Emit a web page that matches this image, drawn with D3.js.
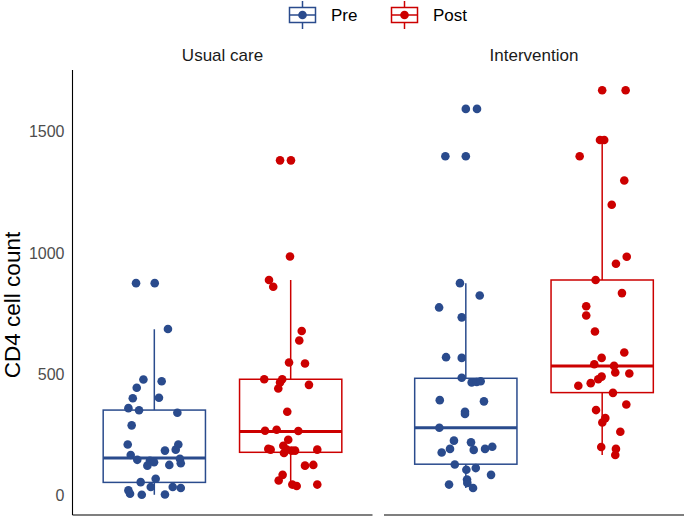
<!DOCTYPE html>
<html>
<head>
<meta charset="utf-8">
<script src="https://cdn.jsdelivr.net/npm/d3@7"></script>
<style>
  body { margin: 0; background: #fff; }
  svg { font-family: "Liberation Sans", Arial, Helvetica, sans-serif; }
</style>
</head>
<body>
<svg id="chart" width="685" height="519"></svg>
<script>
// panels and timepoints
const groups = ['Usual care', 'Intervention'];
const times = ['Pre', 'Post'];
const colors = { Pre: '#2a4b8d', Post: '#cc0000' };
const yTicks = [0, 500, 1000, 1500];

// CD4 counts
const ucPre = [876, 876, 687, 479, 472, 445, 402, 404, 361, 352, 342, 290, 211, 211, 186, 190, 168, 148, 144, 138, 124, 152, 134, 127, 70, 56, 36, 36, 32, 22, 8, 4, 5];
const ucPost = [1382, 1382, 986, 889, 861, 679, 640, 549, 545, 480, 480, 467, 442, 457, 346, 268, 272, 267, 231, 193, 190, 206, 190, 186, 186, 190, 176, 124, 127, 86, 63, 46, 40, 46];
const intPre = [1594, 1594, 1399, 1399, 876, 825, 776, 735, 571, 568, 486, 467, 469, 472, 394, 389, 346, 337, 280, 227, 220, 193, 178, 189, 193, 202, 129, 107, 114, 86, 46, 67, 53, 32];
const intPost = [1671, 1671, 1466, 1466, 1399, 1299, 1199, 985, 956, 889, 835, 781, 743, 677, 590, 568, 542, 535, 508, 504, 491, 480, 464, 453, 424, 376, 353, 320, 302, 264, 201, 193, 168];

// horizontal jitter (in category units) of each point, as seen in the picture
const ucPreJit = [-0.134, 0.003, 0.10, -0.08, 0.054, -0.129, -0.158, 0.034, -0.19, -0.112, 0.169, -0.166, -0.195, 0.176, 0.078, 0.157, -0.173, -0.125, -0.032, -0.002, -0.051, 0.188, 0.194, 0.11, 0.01, -0.1, -0.026, 0.135, 0.194, -0.19, -0.178, -0.092, 0.078];
const ucPostJit = [-0.078, 0.002, -0.005, -0.159, -0.128, 0.081, 0.063, -0.012, 0.105, -0.194, -0.062, -0.078, -0.091, 0.134, -0.025, -0.188, -0.103, 0.056, -0.018, -0.164, -0.147, -0.054, -0.029, 0.007, 0.032, 0.195, -0.049, 0.105, 0.166, -0.059, -0.088, 0.012, 0.044, 0.195];
const intPreJit = [0.0, 0.082, -0.15, 0.0, -0.043, 0.102, -0.196, -0.03, -0.145, -0.03, -0.03, 0.043, 0.08, 0.109, -0.191, 0.133, -0.006, -0.006, -0.194, -0.087, 0.038, -0.116, -0.177, 0.058, 0.141, 0.194, -0.081, 0.004, 0.073, 0.185, -0.123, 0.009, 0.011, 0.053];
const intPostJit = [0.0, 0.172, -0.016, 0.015, -0.165, 0.162, 0.07, 0.18, 0.101, -0.048, 0.145, -0.117, -0.117, -0.053, 0.162, -0.004, -0.058, 0.087, 0.096, 0.199, -0.004, -0.029, -0.084, -0.175, 0.079, 0.177, -0.045, 0.023, 0.001, 0.133, -0.007, 0.101, 0.096];

// box stats: [lower whisker, q1, median, q3, upper whisker]
const ucPreBox = [4, 55, 156, 353, 686];
const ucPostBox = [40, 179, 265, 480, 889];
const intPreBox = [32, 130, 280, 484, 876];
const intPostBox = [168, 425, 535, 889, 1466];

const series = [
  { group: 'Usual care', time: 'Pre', values: ucPre, jit: ucPreJit, box: ucPreBox },
  { group: 'Usual care', time: 'Post', values: ucPost, jit: ucPostJit, box: ucPostBox },
  { group: 'Intervention', time: 'Pre', values: intPre, jit: intPreJit, box: intPreBox },
  { group: 'Intervention', time: 'Post', values: intPost, jit: intPostJit, box: intPostBox }
];

const svg = d3.select('#chart');
const yTop = 70, yBottom = 515;
const panelW = 300;
const panelX = d3.scaleOrdinal().domain(groups).range([72.5, 384]);

// y scale with ggplot-like 5% expansion
const allVals = [].concat(ucPre, ucPost, intPre, intPost);
const [vmin, vmax] = d3.extent(allVals);
const pad = (vmax - vmin) * 0.05;
const y = d3.scaleLinear().domain([vmin - pad, vmax + pad]).range([yBottom, yTop]);

const x = d3.scalePoint().domain(times).range([0, panelW]).padding(0.6);
const step = x.step();
const boxW = step * 0.75;

// y axis (no tick marks)
const yAxis = d3.axisLeft(y).tickValues(yTicks).tickFormat(d3.format('d')).tickSize(0).tickPadding(8);
const gy = svg.append('g').attr('transform', `translate(${panelX('Usual care')},0)`).call(yAxis);
gy.select('.domain').remove();
gy.selectAll('text').attr('fill', '#4d4d4d').style('font-size', '16px')
  .style('font-family', '"Liberation Sans", Arial, sans-serif');
svg.append('line')
  .attr('x1', panelX('Usual care')).attr('x2', panelX('Usual care'))
  .attr('y1', yTop).attr('y2', yBottom)
  .attr('stroke', '#000').attr('stroke-width', 1.1);

svg.append('text')
  .attr('transform', `translate(20,305) rotate(-90)`)
  .attr('text-anchor', 'middle')
  .style('font-size', '22.5px')
  .attr('fill', '#000')
  .text('CD4 cell count');

groups.forEach(g => {
  const px = panelX(g);
  // bottom axis line per panel
  svg.append('line')
    .attr('x1', px).attr('x2', px + panelW)
    .attr('y1', yBottom).attr('y2', yBottom)
    .attr('stroke', '#000').attr('stroke-width', 1.1);
  // strip title
  svg.append('text')
    .attr('x', px + panelW / 2).attr('y', 61)
    .attr('text-anchor', 'middle')
    .style('font-size', '17px')
    .attr('fill', '#1a1a1a')
    .text(g);
});

series.forEach(s => {
  const cx = panelX(s.group) + x(s.time);
  const col = colors[s.time];
  const [lo, q1, med, q3, hi] = s.box;
  const g = svg.append('g');
  g.append('line').attr('x1', cx).attr('x2', cx).attr('y1', y(hi)).attr('y2', y(q3))
    .attr('stroke', col).attr('stroke-width', 1.5);
  g.append('line').attr('x1', cx).attr('x2', cx).attr('y1', y(q1)).attr('y2', y(lo))
    .attr('stroke', col).attr('stroke-width', 1.5);
  g.append('rect')
    .attr('x', cx - boxW / 2).attr('y', y(q3))
    .attr('width', boxW).attr('height', y(q1) - y(q3))
    .attr('fill', 'none').attr('stroke', col).attr('stroke-width', 1.5);
  g.append('line').attr('x1', cx - boxW / 2).attr('x2', cx + boxW / 2)
    .attr('y1', y(med)).attr('y2', y(med))
    .attr('stroke', col).attr('stroke-width', 3);

  g.selectAll('circle')
    .data(s.values.map((v, i) => ({ v, j: s.jit[i] })))
    .enter()
    .append('circle')
    .attr('cx', d => cx + d.j * step)
    .attr('cy', d => y(d.v))
    .attr('r', 4.3)
    .attr('fill', col);
});

// legend
const legX = { Pre: 289.5, Post: 391.5 };
times.forEach(t => {
  const lx = legX[t], col = colors[t];
  const lg = svg.append('g');
  lg.append('line').attr('x1', lx + 13).attr('x2', lx + 13).attr('y1', 1).attr('y2', 29)
    .attr('stroke', col).attr('stroke-width', 1.5);
  lg.append('rect').attr('x', lx).attr('y', 7.5).attr('width', 26).attr('height', 15)
    .attr('fill', '#fff').attr('stroke', col).attr('stroke-width', 1.5);
  lg.append('line').attr('x1', lx).attr('x2', lx + 26).attr('y1', 15).attr('y2', 15)
    .attr('stroke', col).attr('stroke-width', 1.5);
  lg.append('circle').attr('cx', lx + 13).attr('cy', 15).attr('r', 4.3).attr('fill', col);
  lg.append('text').attr('x', lx + 41.5).attr('y', 21)
    .style('font-size', '17px').attr('fill', '#000').text(t);
});
</script>
</body>
</html>
